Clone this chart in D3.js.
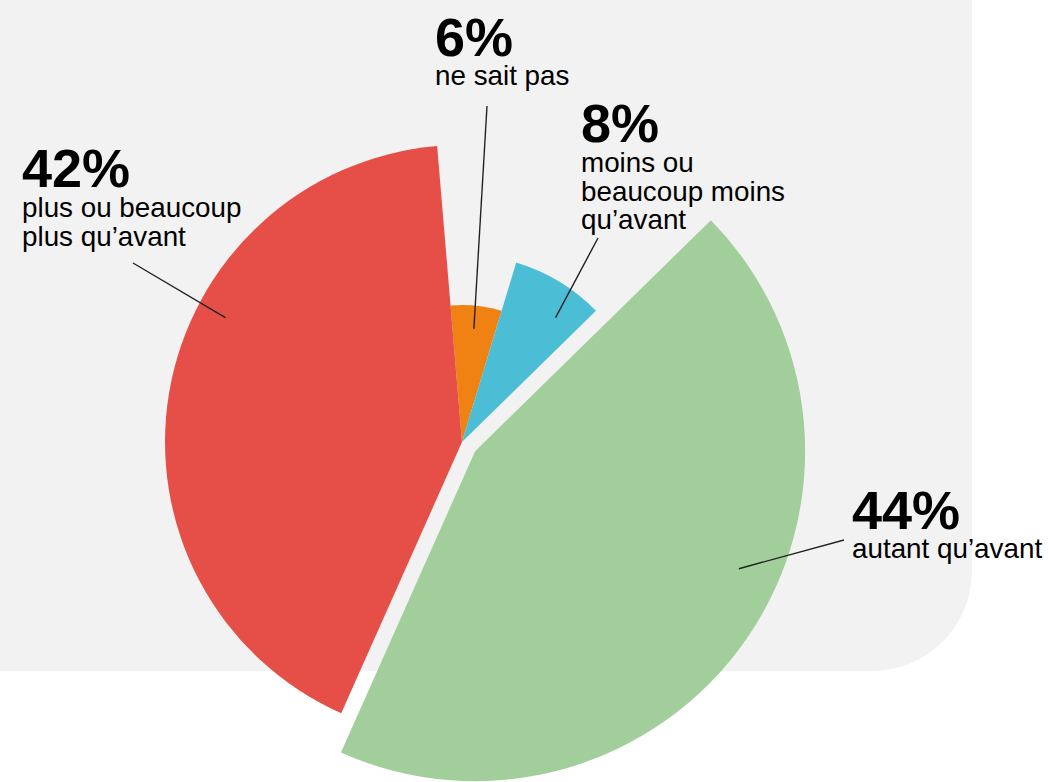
<!DOCTYPE html>
<html lang="fr">
<head>
<meta charset="utf-8">
<script src="https://cdn.jsdelivr.net/npm/d3@7"></script>
<style>
  html, body { margin: 0; padding: 0; background: #ffffff; }
  svg { display: block; }
  text { font-family: "Liberation Sans", Arial, Helvetica, sans-serif; fill: #000; }
  .pct { font-weight: 700; font-size: 54px; }
  .lbl { font-size: 27.8px; }
</style>
</head>
<body>
<svg id="chart" width="1049" height="782"></svg>
<script>
// Answers, in clockwise order from the top
const categories = ["ne sait pas", "moins ou beaucoup moins qu’avant", "autant qu’avant", "plus ou beaucoup plus qu’avant"];
const values = [6, 8, 44, 42];
const valueLabels = ["6%", "8%", "44%", "42%"];
const labelLines = [
  ["ne sait pas"],
  ["moins ou", "beaucoup moins", "qu’avant"],
  ["autant qu’avant"],
  ["plus ou beaucoup", "plus qu’avant"]
];

// Look of each slice: colour, radius, and how far it is pulled out
const colors = ["#ef8213", "#4bbed6", "#a1ce9a", "#e64f47"];
const radii = [137, 187.5, 330, 297];
const explode = [0, 0, 16, 0];

// Where each callout sits: text anchor, gap under the percentage,
// outer end of its leader, and where the leader lands inside the slice
// (fraction of the slice's angle / of its radius)
const callouts = [
  { x: 435, y: 56,  gap: 28.5, lineTo: [487, 106], t: 0.5,  rf: 0.83 },
  { x: 581, y: 142, gap: 30,   lineTo: [598, 238], t: 0.7,  rf: 0.83 },
  { x: 852, y: 529, gap: 28.5, lineTo: [844, 540], t: 0.432, rf: 0.875 },
  { x: 22,  y: 187, gap: 30,   lineTo: [133, 263], t: 0.62, rf: 0.9 }
];

const cx = 462, cy = 442;
const svg = d3.select("#chart");

// Light grey panel with a rounded lower-right corner
const px = 972, py = 671, pr = 100;
const panel = d3.path();
panel.moveTo(0, 0);
panel.lineTo(px, 0);
panel.lineTo(px, py - pr);
panel.arcTo(px, py, px - pr, py, pr);
panel.lineTo(0, py);
panel.closePath();
svg.append("path").attr("d", panel.toString()).attr("fill", "#f2f2f2");

const start = -4.8 * Math.PI / 180;
const pie = d3.pie().sort(null).startAngle(start).endAngle(start + 2 * Math.PI);
const arcs = pie(values);

const g = svg.append("g").attr("transform", `translate(${cx},${cy})`);

function offsetOf(d, i) {
  const mid = (d.startAngle + d.endAngle) / 2;
  return [Math.sin(mid) * explode[i], -Math.cos(mid) * explode[i]];
}

g.selectAll("path.slice")
  .data(arcs)
  .join("path")
  .attr("class", "slice")
  .attr("fill", (d, i) => colors[i])
  .attr("transform", (d, i) => {
    const [ox, oy] = offsetOf(d, i);
    return `translate(${ox},${oy})`;
  })
  .attr("d", (d, i) => d3.arc().innerRadius(0).outerRadius(radii[i])(d));

// Leader lines from each slice to its text
arcs.forEach((d, i) => {
  const c = callouts[i];
  const [ox, oy] = offsetOf(d, i);
  const a = d.startAngle + (d.endAngle - d.startAngle) * c.t;
  const r = radii[i] * c.rf;
  const x0 = cx + ox + Math.sin(a) * r;
  const y0 = cy + oy - Math.cos(a) * r;
  svg.append("line")
    .attr("x1", x0).attr("y1", y0)
    .attr("x2", c.lineTo[0]).attr("y2", c.lineTo[1])
    .attr("stroke", "#222").attr("stroke-width", 1.4);
});

// Percentage and answer text, one block per slice
arcs.forEach((d, i) => {
  const c = callouts[i];
  const t = svg.append("text").attr("x", c.x).attr("y", c.y);
  t.append("tspan").attr("class", "pct")
    .attr("x", c.x).attr("y", c.y)
    .text(valueLabels[i]);
  labelLines[i].forEach((line, k) => {
    t.append("tspan").attr("class", "lbl")
      .attr("x", c.x).attr("y", c.y + c.gap + k * 28.7)
      .text(line);
  });
});
</script>
</body>
</html>
